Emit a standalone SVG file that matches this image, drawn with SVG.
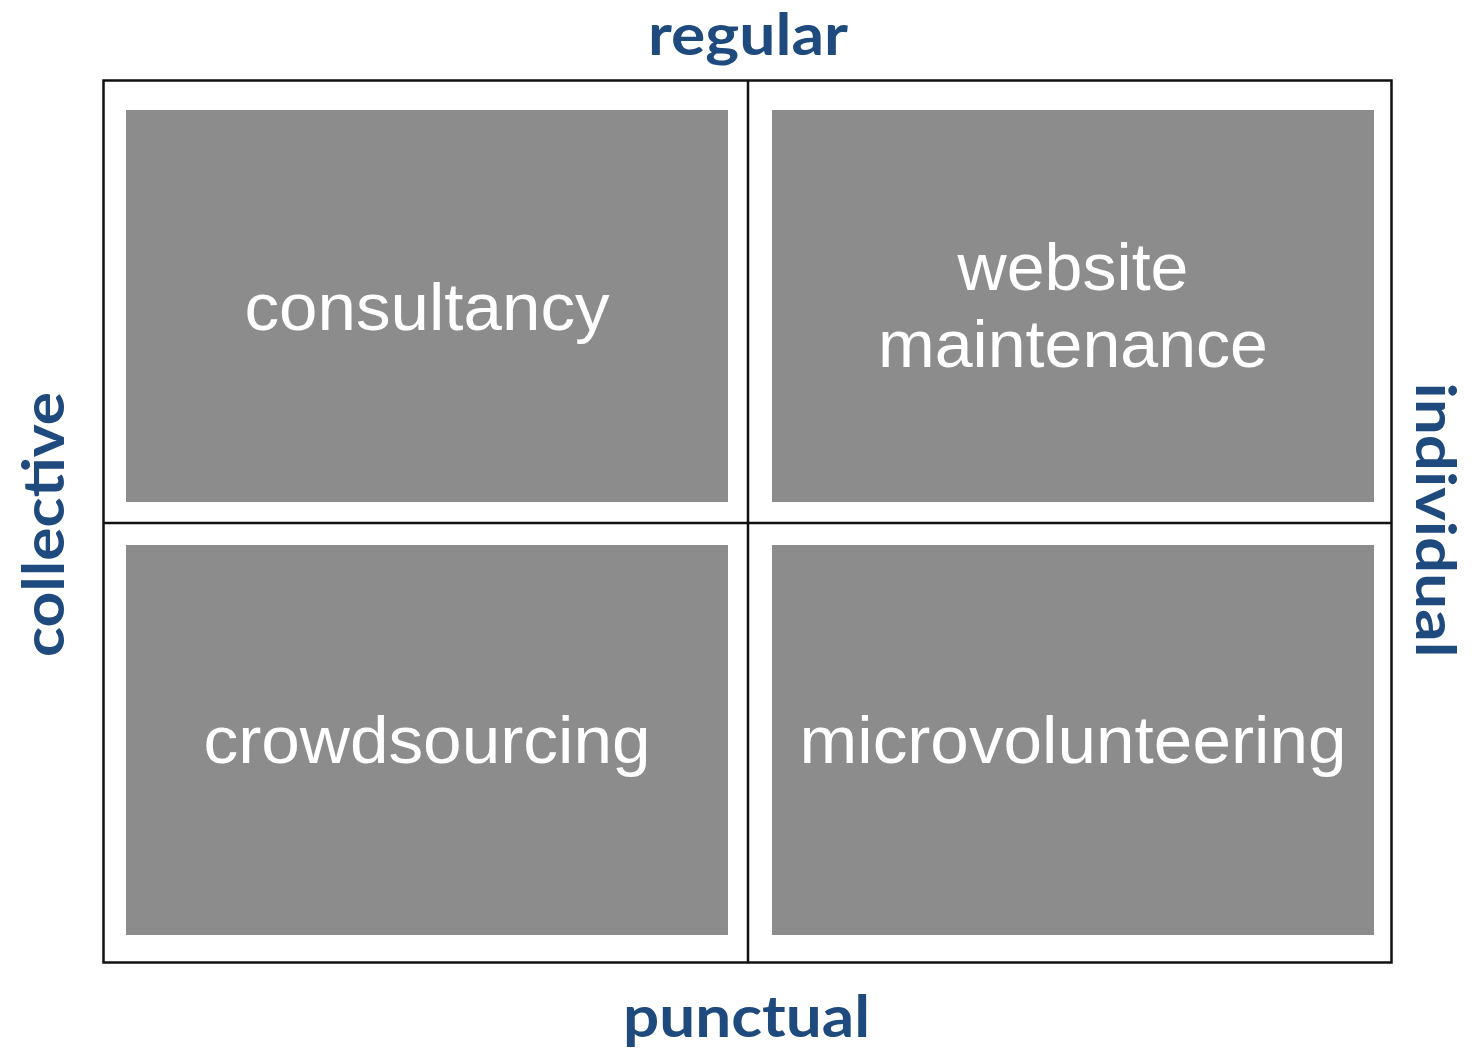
<svg xmlns="http://www.w3.org/2000/svg" width="1472" height="1049" viewBox="0 0 1472 1049">
<style>
.box{fill:#8c8c8c}
.line{stroke:#111;stroke-width:2.5;fill:none}
.t{font-family:"Liberation Sans",Arial,sans-serif;font-size:67px;fill:#ffffff;text-anchor:middle}
.ax{font-family:Lato,"Open Sans",sans-serif;font-weight:bold;font-size:58px;fill:#1f4a7e;text-anchor:middle}
</style>
<rect width="1472" height="1049" fill="#ffffff"/>
<g id="frame">
<rect class="line" x="103.5" y="80.5" width="1288" height="882"/>
</g>
<g id="connectors">
<line class="line" x1="748" y1="80.5" x2="748" y2="962.5"/>
<line class="line" x1="103.5" y1="523" x2="1391.5" y2="523"/>
</g>
<g id="consultancy">
<rect class="box" x="126" y="110" width="602" height="392"/>
<text class="t" x="427" y="330" textLength="365" lengthAdjust="spacingAndGlyphs">consultancy</text>
</g>
<g id="website-maintenance">
<rect class="box" x="772" y="110" width="602" height="392"/>
<text class="t" x="1073" y="290" textLength="231" lengthAdjust="spacingAndGlyphs">website</text>
<text class="t" x="1073" y="367" textLength="390" lengthAdjust="spacingAndGlyphs">maintenance</text>
</g>
<g id="crowdsourcing">
<rect class="box" x="126" y="545" width="602" height="390"/>
<text class="t" x="427" y="763" textLength="447" lengthAdjust="spacingAndGlyphs">crowdsourcing</text>
</g>
<g id="microvolunteering">
<rect class="box" x="772" y="545" width="602" height="390"/>
<text class="t" x="1073" y="763" textLength="547" lengthAdjust="spacingAndGlyphs">microvolunteering</text>
</g>
<g id="axis-labels">
<text class="ax" x="748" y="55" textLength="200" lengthAdjust="spacingAndGlyphs">regular</text>
<text class="ax" x="746.5" y="1037" textLength="247" lengthAdjust="spacingAndGlyphs">punctual</text>
<text class="ax" transform="translate(64,524.5) rotate(-90)" textLength="265" lengthAdjust="spacingAndGlyphs">collective</text>
<text class="ax" style="font-size:55px" transform="translate(1416,520) rotate(90)" textLength="275" lengthAdjust="spacingAndGlyphs">individual</text>
</g>
</svg>
